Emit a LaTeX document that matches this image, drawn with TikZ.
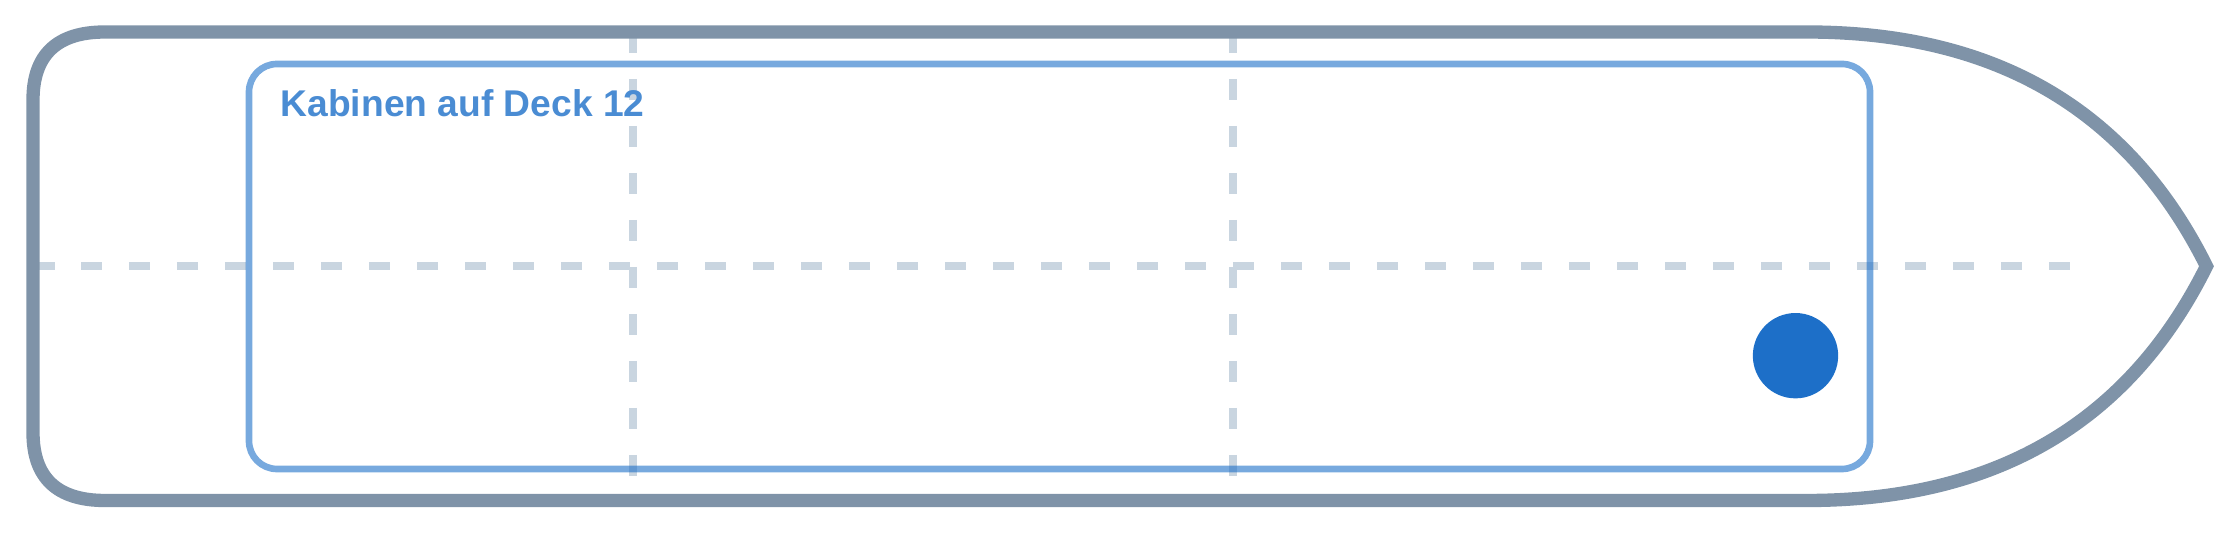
\documentclass[tikz,border=0pt]{standalone}
\usepackage{fontspec}
\setmainfont{Liberation Sans}
\definecolor{hullc}{HTML}{7F93A8}
\definecolor{dashc}{HTML}{C9D5E0}
\definecolor{bluec}{HTML}{1D6FC8}
\begin{document}
\begin{tikzpicture}[x=0.3pt,y=-0.3pt,
  hull/.style={draw=hullc,line width=4pt,line join=miter},
  cabin/.style={draw=bluec,draw opacity=0.6,line width=2pt,rounded corners=8.4pt},
  hguide/.style={draw=dashc,line width=2.4pt,dash pattern=on 6.45pt off 7.95pt},
  vguide/.style={draw=dashc,line width=2.4pt,dash pattern=on 6.3pt off 7.8pt},
  title/.style={text=bluec!80!white,font=\fontsize{11.16pt}{13pt}\selectfont\bfseries,inner sep=0pt,anchor=base west},
  marker/.style={circle,fill=bluec,inner sep=0pt,minimum size=25.6pt}]
\useasboundingbox (0,0) rectangle (2240,533);
% guides
\coordinate (hL) at (33,266);
\coordinate (hR) at (2070,266);
\coordinate (v1t) at (633,32);
\coordinate (v1b) at (633,500);
\coordinate (v2t) at (1233,32);
\coordinate (v2b) at (1233,500);
\draw[hguide] (hL) -- (hR);
\draw[vguide] (v1t) -- (v1b);
\draw[vguide] (v2t) -- (v2b);
% hull
\draw[hull] (33,100) .. controls (33,54.7) and (57,32) .. (105,32)
  -- (1807,32)
  .. controls (1995.7,32) and (2128.8,110) .. (2206.5,266.25)
  .. controls (2128.8,422.5) and (1995.7,500.5) .. (1807,500.5)
  -- (105,500.5)
  .. controls (57,500.5) and (33,477.8) .. (33,432.5) -- cycle;
% cabin
\draw[cabin] (249,64) rectangle (1870,469);
\node[title] (label) at (280,117) {Kabinen auf Deck 12};
\node[marker] (dot) at (1795.5,355.7) {};
\end{tikzpicture}
\end{document}
